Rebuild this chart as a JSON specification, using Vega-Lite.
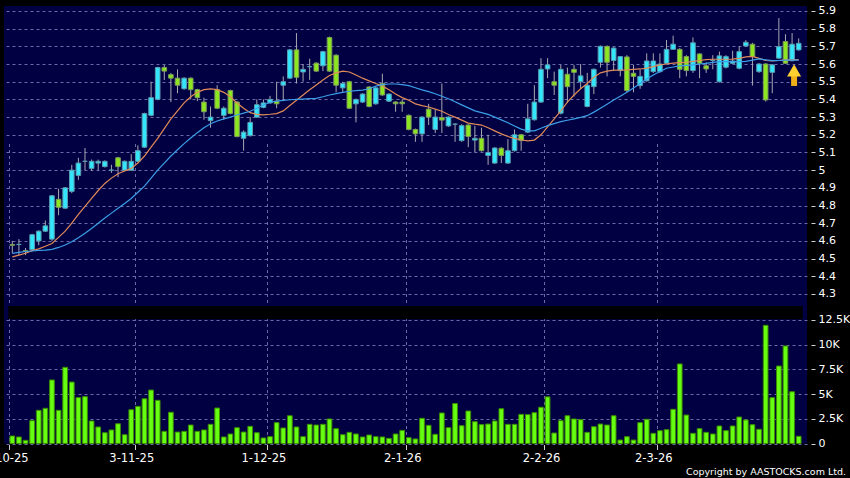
{
"$schema": "https://vega.github.io/schema/vega-lite/v6.json",
"width": 803, "height": 437.5,
"autosize": {"type": "none"},
"padding": {"left": 4, "top": 6, "right": 43, "bottom": 34.5},
"background": "#000000",
"config": {"view": {"fill": "#000042", "stroke": null}, "font": "DejaVu Sans"},
"title": {"text": "Copyright by AASTOCKS.com Ltd.", "orient": "bottom", "anchor": "end", "frame": "group", "color": "#ffffff", "fontSize": 9.5, "fontWeight": "normal", "font": "DejaVu Sans", "dx": 39, "offset": 3},
"data": {"values": [
{"i":0,"o":4.58,"h":4.60,"l":4.53,"c":4.575,"v":760,"a":4.51,"b":4.53},
{"i":1,"o":4.58,"h":4.61,"l":4.52,"c":4.58,"v":660,"a":4.52,"b":4.535},
{"i":2,"o":4.545,"h":4.56,"l":4.52,"c":4.54,"v":320,"a":4.53,"b":4.54},
{"i":3,"o":4.55,"h":4.64,"l":4.545,"c":4.635,"v":2310,"a":4.545,"b":4.543},
{"i":4,"o":4.60,"h":4.66,"l":4.575,"c":4.655,"v":3360,"a":4.555,"b":4.546},
{"i":5,"o":4.655,"h":4.715,"l":4.65,"c":4.685,"v":3560,"a":4.57,"b":4.548},
{"i":6,"o":4.61,"h":4.86,"l":4.60,"c":4.855,"v":6430,"a":4.585,"b":4.552},
{"i":7,"o":4.835,"h":4.895,"l":4.745,"c":4.79,"v":3360,"a":4.62,"b":4.563},
{"i":8,"o":4.785,"h":4.905,"l":4.78,"c":4.90,"v":7710,"a":4.655,"b":4.577},
{"i":9,"o":4.88,"h":5.03,"l":4.87,"c":5.0,"v":6220,"a":4.70,"b":4.595},
{"i":10,"o":4.97,"h":5.07,"l":4.945,"c":5.04,"v":4640,"a":4.75,"b":4.618},
{"i":11,"o":5.05,"h":5.125,"l":5.0,"c":5.05,"v":4740,"a":4.795,"b":4.643},
{"i":12,"o":5.01,"h":5.06,"l":4.995,"c":5.05,"v":2280,"a":4.84,"b":4.67},
{"i":13,"o":5.04,"h":5.06,"l":5.0,"c":5.05,"v":1670,"a":4.885,"b":4.70},
{"i":14,"o":5.02,"h":5.055,"l":5.015,"c":5.05,"v":1090,"a":4.925,"b":4.73},
{"i":15,"o":5.0,"h":5.03,"l":4.985,"c":5.0,"v":1370,"a":4.955,"b":4.757},
{"i":16,"o":5.07,"h":5.075,"l":4.96,"c":5.02,"v":2000,"a":4.98,"b":4.785},
{"i":17,"o":5.0,"h":5.055,"l":4.995,"c":5.05,"v":890,"a":4.995,"b":4.812},
{"i":18,"o":5.0,"h":5.09,"l":4.995,"c":5.05,"v":3420,"a":5.01,"b":4.84},
{"i":19,"o":5.05,"h":5.14,"l":5.045,"c":5.11,"v":3760,"a":5.04,"b":4.875},
{"i":20,"o":5.13,"h":5.325,"l":5.125,"c":5.32,"v":4530,"a":5.08,"b":4.91},
{"i":21,"o":5.31,"h":5.50,"l":5.305,"c":5.41,"v":5410,"a":5.13,"b":4.955},
{"i":22,"o":5.40,"h":5.585,"l":5.395,"c":5.58,"v":4370,"a":5.18,"b":5.0},
{"i":23,"o":5.58,"h":5.595,"l":5.51,"c":5.56,"v":1230,"a":5.235,"b":5.04},
{"i":24,"o":5.54,"h":5.55,"l":5.385,"c":5.52,"v":3160,"a":5.29,"b":5.08},
{"i":25,"o":5.52,"h":5.57,"l":5.435,"c":5.48,"v":1160,"a":5.335,"b":5.115},
{"i":26,"o":5.46,"h":5.525,"l":5.455,"c":5.52,"v":1230,"a":5.38,"b":5.15},
{"i":27,"o":5.52,"h":5.525,"l":5.40,"c":5.455,"v":1870,"a":5.415,"b":5.182},
{"i":28,"o":5.455,"h":5.46,"l":5.39,"c":5.41,"v":1230,"a":5.44,"b":5.212},
{"i":29,"o":5.385,"h":5.41,"l":5.285,"c":5.33,"v":1370,"a":5.455,"b":5.24},
{"i":30,"o":5.28,"h":5.36,"l":5.24,"c":5.30,"v":1940,"a":5.46,"b":5.262},
{"i":31,"o":5.455,"h":5.48,"l":5.345,"c":5.35,"v":3590,"a":5.455,"b":5.278},
{"i":32,"o":5.31,"h":5.36,"l":5.285,"c":5.35,"v":660,"a":5.44,"b":5.29},
{"i":33,"o":5.45,"h":5.455,"l":5.315,"c":5.32,"v":960,"a":5.415,"b":5.30},
{"i":34,"o":5.385,"h":5.39,"l":5.185,"c":5.19,"v":1600,"a":5.38,"b":5.312},
{"i":35,"o":5.18,"h":5.225,"l":5.11,"c":5.215,"v":1160,"a":5.35,"b":5.322},
{"i":36,"o":5.195,"h":5.30,"l":5.19,"c":5.27,"v":1740,"a":5.325,"b":5.333},
{"i":37,"o":5.30,"h":5.40,"l":5.295,"c":5.37,"v":1090,"a":5.315,"b":5.35},
{"i":38,"o":5.355,"h":5.40,"l":5.35,"c":5.38,"v":560,"a":5.313,"b":5.368},
{"i":39,"o":5.38,"h":5.42,"l":5.375,"c":5.40,"v":690,"a":5.316,"b":5.384},
{"i":40,"o":5.39,"h":5.50,"l":5.35,"c":5.375,"v":2110,"a":5.32,"b":5.39},
{"i":41,"o":5.48,"h":5.53,"l":5.39,"c":5.50,"v":1570,"a":5.335,"b":5.395},
{"i":42,"o":5.52,"h":5.685,"l":5.515,"c":5.68,"v":2810,"a":5.365,"b":5.398},
{"i":43,"o":5.68,"h":5.775,"l":5.49,"c":5.525,"v":1670,"a":5.395,"b":5.40},
{"i":44,"o":5.555,"h":5.60,"l":5.50,"c":5.57,"v":690,"a":5.425,"b":5.402},
{"i":45,"o":5.585,"h":5.63,"l":5.51,"c":5.585,"v":1940,"a":5.455,"b":5.404},
{"i":46,"o":5.605,"h":5.61,"l":5.555,"c":5.56,"v":1870,"a":5.482,"b":5.406},
{"i":47,"o":5.59,"h":5.675,"l":5.56,"c":5.67,"v":1940,"a":5.51,"b":5.415},
{"i":48,"o":5.75,"h":5.755,"l":5.555,"c":5.56,"v":2480,"a":5.535,"b":5.425},
{"i":49,"o":5.65,"h":5.655,"l":5.44,"c":5.48,"v":1500,"a":5.55,"b":5.433},
{"i":50,"o":5.465,"h":5.50,"l":5.44,"c":5.49,"v":890,"a":5.56,"b":5.44},
{"i":51,"o":5.50,"h":5.505,"l":5.345,"c":5.35,"v":1130,"a":5.555,"b":5.446},
{"i":52,"o":5.375,"h":5.405,"l":5.27,"c":5.40,"v":960,"a":5.538,"b":5.45},
{"i":53,"o":5.385,"h":5.435,"l":5.38,"c":5.43,"v":660,"a":5.52,"b":5.452},
{"i":54,"o":5.47,"h":5.475,"l":5.355,"c":5.36,"v":860,"a":5.505,"b":5.46},
{"i":55,"o":5.375,"h":5.47,"l":5.37,"c":5.465,"v":690,"a":5.49,"b":5.475},
{"i":56,"o":5.49,"h":5.545,"l":5.42,"c":5.425,"v":660,"a":5.475,"b":5.483},
{"i":57,"o":5.39,"h":5.435,"l":5.385,"c":5.43,"v":520,"a":5.455,"b":5.487},
{"i":58,"o":5.385,"h":5.39,"l":5.33,"c":5.375,"v":960,"a":5.43,"b":5.487},
{"i":59,"o":5.385,"h":5.40,"l":5.33,"c":5.375,"v":1330,"a":5.41,"b":5.483},
{"i":60,"o":5.31,"h":5.315,"l":5.225,"c":5.23,"v":590,"a":5.395,"b":5.478},
{"i":61,"o":5.23,"h":5.235,"l":5.16,"c":5.205,"v":460,"a":5.375,"b":5.466},
{"i":62,"o":5.205,"h":5.305,"l":5.16,"c":5.30,"v":2550,"a":5.365,"b":5.454},
{"i":63,"o":5.345,"h":5.375,"l":5.255,"c":5.30,"v":1840,"a":5.357,"b":5.444},
{"i":64,"o":5.23,"h":5.34,"l":5.21,"c":5.30,"v":930,"a":5.345,"b":5.432},
{"i":65,"o":5.297,"h":5.49,"l":5.21,"c":5.283,"v":3090,"a":5.333,"b":5.418},
{"i":66,"o":5.25,"h":5.305,"l":5.245,"c":5.30,"v":1600,"a":5.315,"b":5.404},
{"i":67,"o":5.26,"h":5.265,"l":5.16,"c":5.26,"v":4050,"a":5.30,"b":5.387},
{"i":68,"o":5.167,"h":5.26,"l":5.16,"c":5.252,"v":1800,"a":5.283,"b":5.369},
{"i":69,"o":5.255,"h":5.26,"l":5.13,"c":5.19,"v":3290,"a":5.266,"b":5.352},
{"i":70,"o":5.17,"h":5.25,"l":5.10,"c":5.18,"v":2210,"a":5.26,"b":5.335},
{"i":71,"o":5.18,"h":5.24,"l":5.105,"c":5.11,"v":1910,"a":5.255,"b":5.325},
{"i":72,"o":5.083,"h":5.20,"l":5.03,"c":5.10,"v":1970,"a":5.24,"b":5.315},
{"i":73,"o":5.04,"h":5.13,"l":5.035,"c":5.125,"v":2280,"a":5.222,"b":5.30},
{"i":74,"o":5.124,"h":5.13,"l":5.04,"c":5.083,"v":3520,"a":5.205,"b":5.284},
{"i":75,"o":5.04,"h":5.175,"l":5.035,"c":5.11,"v":1940,"a":5.19,"b":5.268},
{"i":76,"o":5.11,"h":5.23,"l":5.105,"c":5.20,"v":1940,"a":5.18,"b":5.25},
{"i":77,"o":5.20,"h":5.205,"l":5.11,"c":5.167,"v":2950,"a":5.172,"b":5.232},
{"i":78,"o":5.215,"h":5.375,"l":5.21,"c":5.29,"v":2920,"a":5.166,"b":5.222},
{"i":79,"o":5.285,"h":5.48,"l":5.28,"c":5.385,"v":3120,"a":5.17,"b":5.222},
{"i":80,"o":5.385,"h":5.633,"l":5.38,"c":5.57,"v":3670,"a":5.20,"b":5.237},
{"i":81,"o":5.572,"h":5.633,"l":5.52,"c":5.595,"v":4720,"a":5.245,"b":5.252},
{"i":82,"o":5.50,"h":5.557,"l":5.425,"c":5.48,"v":1060,"a":5.29,"b":5.263},
{"i":83,"o":5.322,"h":5.595,"l":5.315,"c":5.57,"v":2310,"a":5.335,"b":5.274},
{"i":84,"o":5.542,"h":5.58,"l":5.38,"c":5.472,"v":2810,"a":5.385,"b":5.282},
{"i":85,"o":5.57,"h":5.595,"l":5.416,"c":5.553,"v":2480,"a":5.425,"b":5.29},
{"i":86,"o":5.50,"h":5.60,"l":5.46,"c":5.533,"v":2410,"a":5.46,"b":5.298},
{"i":87,"o":5.36,"h":5.55,"l":5.355,"c":5.48,"v":1130,"a":5.49,"b":5.308},
{"i":88,"o":5.472,"h":5.575,"l":5.43,"c":5.57,"v":1700,"a":5.525,"b":5.328},
{"i":89,"o":5.61,"h":5.705,"l":5.58,"c":5.70,"v":1970,"a":5.55,"b":5.35},
{"i":90,"o":5.70,"h":5.705,"l":5.53,"c":5.61,"v":1870,"a":5.56,"b":5.373},
{"i":91,"o":5.62,"h":5.695,"l":5.56,"c":5.69,"v":2810,"a":5.565,"b":5.397},
{"i":92,"o":5.563,"h":5.645,"l":5.53,"c":5.642,"v":350,"a":5.565,"b":5.418},
{"i":93,"o":5.64,"h":5.65,"l":5.44,"c":5.45,"v":690,"a":5.567,"b":5.44},
{"i":94,"o":5.548,"h":5.595,"l":5.44,"c":5.53,"v":350,"a":5.57,"b":5.465},
{"i":95,"o":5.478,"h":5.57,"l":5.46,"c":5.53,"v":2110,"a":5.572,"b":5.49},
{"i":96,"o":5.505,"h":5.66,"l":5.50,"c":5.617,"v":2450,"a":5.577,"b":5.515},
{"i":97,"o":5.557,"h":5.66,"l":5.55,"c":5.617,"v":1030,"a":5.585,"b":5.538},
{"i":98,"o":5.557,"h":5.66,"l":5.55,"c":5.60,"v":1300,"a":5.595,"b":5.558},
{"i":99,"o":5.604,"h":5.736,"l":5.60,"c":5.683,"v":1400,"a":5.60,"b":5.576},
{"i":100,"o":5.683,"h":5.76,"l":5.68,"c":5.712,"v":3460,"a":5.605,"b":5.583},
{"i":101,"o":5.683,"h":5.69,"l":5.52,"c":5.57,"v":8050,"a":5.608,"b":5.589},
{"i":102,"o":5.642,"h":5.65,"l":5.53,"c":5.563,"v":2880,"a":5.61,"b":5.592},
{"i":103,"o":5.563,"h":5.75,"l":5.55,"c":5.72,"v":1030,"a":5.615,"b":5.595},
{"i":104,"o":5.657,"h":5.66,"l":5.52,"c":5.604,"v":1500,"a":5.62,"b":5.60},
{"i":105,"o":5.59,"h":5.61,"l":5.55,"c":5.572,"v":1130,"a":5.625,"b":5.604},
{"i":106,"o":5.62,"h":5.65,"l":5.57,"c":5.62,"v":960,"a":5.627,"b":5.609},
{"i":107,"o":5.50,"h":5.67,"l":5.495,"c":5.646,"v":1770,"a":5.627,"b":5.613},
{"i":108,"o":5.582,"h":5.65,"l":5.575,"c":5.642,"v":1300,"a":5.627,"b":5.613},
{"i":109,"o":5.604,"h":5.675,"l":5.60,"c":5.617,"v":1770,"a":5.628,"b":5.613},
{"i":110,"o":5.576,"h":5.70,"l":5.57,"c":5.67,"v":2680,"a":5.632,"b":5.613},
{"i":111,"o":5.702,"h":5.735,"l":5.70,"c":5.723,"v":2380,"a":5.64,"b":5.615},
{"i":112,"o":5.712,"h":5.72,"l":5.478,"c":5.642,"v":1900,"a":5.643,"b":5.622},
{"i":113,"o":5.557,"h":5.605,"l":5.55,"c":5.60,"v":1440,"a":5.632,"b":5.629},
{"i":114,"o":5.60,"h":5.605,"l":5.388,"c":5.397,"v":11960,"a":5.62,"b":5.624},
{"i":115,"o":5.553,"h":5.60,"l":5.435,"c":5.595,"v":4640,"a":5.617,"b":5.619},
{"i":116,"o":5.633,"h":5.86,"l":5.63,"c":5.698,"v":7840,"a":5.62,"b":5.62},
{"i":117,"o":5.727,"h":5.768,"l":5.60,"c":5.604,"v":9870,"a":5.623,"b":5.622},
{"i":118,"o":5.619,"h":5.775,"l":5.615,"c":5.712,"v":5240,"a":5.623,"b":5.622},
{"i":119,"o":5.68,"h":5.745,"l":5.675,"c":5.717,"v":730,"a":5.625,"b":5.622}
]},
"encoding": {
  "x": {"field": "i", "type": "quantitative",
    "scale": {"domain": [-0.5, 119.5], "nice": false, "zero": false},
    "axis": {"values": [-0.5, 18.5, 38.5, 59.5, 80.5, 97.5], "tickCount": 30,
      "labelExpr": "datum.value < 0 ? '2-10-25' : datum.value < 19 ? '3-11-25' : datum.value < 39 ? '1-12-25' : datum.value < 60 ? '2-1-26' : datum.value < 81 ? '2-2-26' : '2-3-26'",
      "title": null, "grid": true, "gridColor": "#6a6aa8", "gridDash": [3, 3], "gridWidth": 1,
      "domain": false, "ticks": true, "tickColor": "#d0d0d0", "tickSize": 5, "offset": 1,
      "labelColor": "#ffffff", "labelFont": "DejaVu Sans", "labelFontSize": 11.5, "labelPadding": 3, "labelOffset": -3.3,
      "labelFlush": false, "labelOverlap": false, "labelBound": false}}
},
"layer": [
  {"layer": [
    {"mark": {"type": "rule", "color": "#a8a8b4", "strokeWidth": 1},
     "encoding": {
       "y": {"field": "l", "type": "quantitative",
         "scale": {"domain": [4.232, 5.928], "range": [300, 0], "nice": false, "zero": false},
         "axis": {"orient": "right", "values": [4.3, 4.4, 4.5, 4.6, 4.7, 4.8, 4.9, 5, 5.1, 5.2, 5.3, 5.4, 5.5, 5.6, 5.7, 5.8, 5.9], "tickCount": 40,
           "labelExpr": "format(datum.value, '~g')", "title": null,
           "grid": true, "gridColor": "#6a6aa8", "gridDash": [3, 3], "gridWidth": 1,
           "domain": false, "tickColor": "#d0d0d0", "tickSize": 4, "offset": 4, "labelPadding": 3,
           "labelColor": "#ffffff", "labelFont": "DejaVu Sans", "labelFontSize": 11, "labelOverlap": false, "labelBound": false, "labelFlush": false}},
       "y2": {"field": "h"}}},
    {"mark": {"type": "bar", "size": 4.6, "strokeWidth": 1},
     "encoding": {
       "y": {"field": "o", "type": "quantitative"},
       "y2": {"field": "c"},
       "fill": {"condition": {"test": "datum.c >= datum.o", "value": "#33e6fc"}, "value": "#8ce620"},
       "stroke": {"condition": {"test": "datum.c >= datum.o", "value": "#5a9cae"}, "value": "#7c9a5c"}}},
    {"mark": {"type": "line", "color": "#e08a58", "strokeWidth": 1.2},
     "encoding": {"y": {"field": "a", "type": "quantitative"}}},
    {"mark": {"type": "line", "color": "#3c9ee8", "strokeWidth": 1.2},
     "encoding": {"y": {"field": "b", "type": "quantitative"}}},
    {"transform": [{"filter": "datum.i == 118"}],
     "mark": {"type": "rule", "color": "#f0ae18", "strokeWidth": 6, "strokeCap": "butt", "xOffset": 2},
     "encoding": {"y": {"datum": 5.476, "type": "quantitative"}, "y2": {"datum": 5.55}}},
    {"transform": [{"filter": "datum.i == 118"}],
     "mark": {"type": "point", "shape": "triangle-up", "size": 196, "filled": true, "color": "#ffd030", "opacity": 1, "strokeWidth": 0, "xOffset": 2},
     "encoding": {"y": {"datum": 5.564, "type": "quantitative"}}},
    {"transform": [{"filter": "datum.i == 0"}],
     "mark": {"type": "rect", "color": "#000000"},
     "encoding": {"x": {"datum": -0.6, "type": "quantitative"}, "x2": {"datum": 119.6},
       "y": {"datum": 4.232, "type": "quantitative"}, "y2": {"datum": 4.157}}}
  ]},
  {"layer": [
    {"mark": {"type": "bar", "size": 4.7, "fill": "#66ff11", "stroke": "#3c8c00", "strokeWidth": 1},
     "encoding": {
       "y": {"field": "v", "type": "quantitative",
         "scale": {"domain": [0, 12570], "range": [437.5, 313.3], "nice": false, "zero": true},
         "axis": {"orient": "right", "values": [0, 2500, 5000, 7500, 10000, 12500], "tickCount": 20,
           "labelExpr": "datum.value == 0 ? '0' : format(datum.value / 1000, '~g') + 'K'", "title": null,
           "grid": true, "gridColor": "#6a6aa8", "gridDash": [3, 3], "gridWidth": 1,
           "domain": false, "tickColor": "#d0d0d0", "tickSize": 4, "offset": 4, "labelPadding": 3,
           "labelColor": "#ffffff", "labelFont": "DejaVu Sans", "labelFontSize": 11, "labelOverlap": false, "labelBound": false, "labelFlush": false}}}}
  ]}
],
"resolve": {"scale": {"y": "independent"}, "axis": {"y": "independent"}}
}
